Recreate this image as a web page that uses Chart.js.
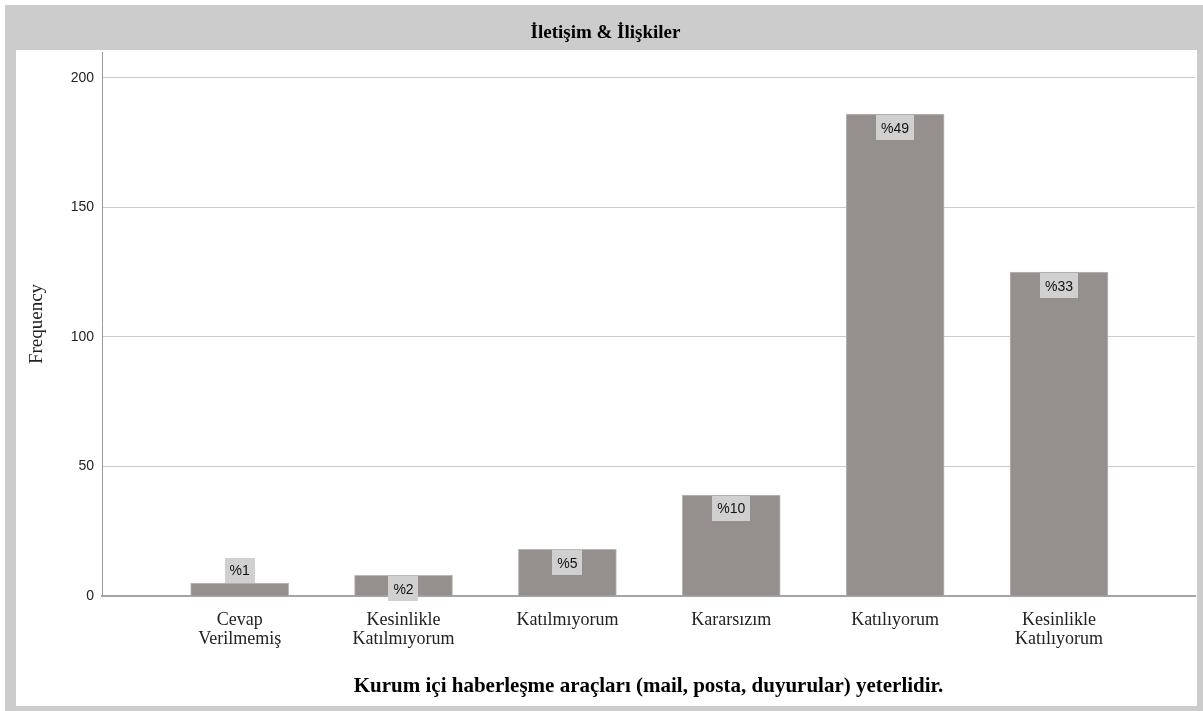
<!DOCTYPE html>
<html>
<head>
<meta charset="utf-8">
<script src="https://cdn.jsdelivr.net/npm/chart.js@4"></script>
<style>
  body { margin: 0; background: #fff; }
  #frame { position: absolute; left: 5px; top: 5px; width: 1198px; height: 706px; background: #cccccc; }
  #inner { position: absolute; left: 16px; top: 50px; width: 1181px; height: 656px; background: #fff; }
  #wrap { position: absolute; left: 0; top: 0; width: 1203px; height: 711px; }
</style>
</head>
<body>
<div id="frame"></div>
<div id="inner"></div>
<div id="wrap"><canvas id="freqChart"></canvas></div>
<script>
// Chart data
const chartTitle = 'İletişim & İlişkiler';
const xTitle = 'Kurum içi haberleşme araçları (mail, posta, duyurular) yeterlidir.';
const yTitle = 'Frequency';
const categories = [
    ['Cevap', 'Verilmemiş'],
    ['Kesinlikle', 'Katılmıyorum'],
    'Katılmıyorum',
    'Kararsızım',
    'Katılıyorum',
    ['Kesinlikle', 'Katılıyorum']
];
const frequencies = [5, 8, 18, 39, 186, 125];
const pctLabels = ['%1', '%2', '%5', '%10', '%49', '%33'];
const yTicks = [0, 50, 100, 150, 200];

const serif = '"Liberation Serif", "Times New Roman", serif';
const sans = '"Liberation Sans", Arial, sans-serif';

// Percent boxes on the bars
const barLabels = {
    id: 'barLabels',
    afterDatasetsDraw(chart) {
        const ctx = chart.ctx;
        const meta = chart.getDatasetMeta(0);
        ctx.save();
        ctx.font = '14px ' + sans;
        ctx.textAlign = 'center';
        ctx.textBaseline = 'middle';
        meta.data.forEach((bar, i) => {
            const text = pctLabels[i];
            const w = ctx.measureText(text).width + 10;
            const h = 25;
            const top = (bar.base - bar.y >= 18) ? bar.y + 1 : bar.y - h;
            ctx.fillStyle = '#d0d0d0';
            ctx.fillRect(Math.round(bar.x - w / 2), Math.round(top), Math.round(w), h);
            ctx.fillStyle = '#111';
            ctx.fillText(text, bar.x, top + h / 2 + 1);
        });
        ctx.restore();
    }
};

const data = {
    datasets: [{
        label: yTitle,
        data: frequencies.map((v, i) => ({ x: i + 1, y: v })),
        backgroundColor: '#958f8d',
        borderColor: '#bdb9b8',
        borderWidth: 1,
        barThickness: 98
    }]
};

const config = {
    type: 'bar',
    data: data,
    options: {
        responsive: false,
        animation: false,
        layout: { padding: { left: 16, right: 8, top: 0, bottom: 5 } },
        plugins: {
            legend: { display: false },
            tooltip: { enabled: false },
            title: {
                display: true,
                text: chartTitle,
                color: '#000',
                font: { family: serif, size: 19, weight: 'bold', lineHeight: 1.2 },
                padding: { top: 22, bottom: 7.2 }
            }
        },
        scales: {
            x: {
                type: 'linear',
                min: 0.16,
                max: 6.83,
                offset: false,
                afterFit: s => { s.height = 110; },
                afterBuildTicks: s => { s.ticks = categories.map((c, i) => ({ value: i + 1 })); },
                grid: { display: false, drawTicks: false },
                border: { display: true, color: '#a4a4a4', width: 2 },
                ticks: {
                    autoSkip: false,
                    maxRotation: 0,
                    padding: 14,
                    color: '#222',
                    font: { family: serif, size: 18, lineHeight: 1.1 },
                    callback: v => categories[v - 1]
                },
                title: {
                    display: true,
                    text: xTitle,
                    color: '#000',
                    font: { family: serif, size: 21, weight: 'bold', lineHeight: 1.2 },
                    padding: { top: 0, bottom: 7 }
                }
            },
            y: {
                min: 0,
                max: 210,
                afterFit: s => { s.width = 86; },
                afterBuildTicks: s => { s.ticks = yTicks.map(v => ({ value: v })); },
                grid: {
                    drawTicks: false,
                    color: c => c.tick && c.tick.value === 0 ? 'rgba(0,0,0,0)' : '#cbcbcb'
                },
                border: { display: true, color: '#9a9a9a', width: 1 },
                ticks: {
                    padding: 8,
                    color: '#222',
                    font: { family: sans, size: 14 }
                },
                title: {
                    display: true,
                    text: yTitle,
                    color: '#222',
                    font: { family: serif, size: 19, lineHeight: 1.2 },
                    padding: { top: 10, bottom: 0 }
                }
            }
        }
    },
    plugins: [barLabels]
};

const canvas = document.getElementById('freqChart');
canvas.width = 1203;
canvas.height = 711;
new Chart(canvas, config);
</script>
</body>
</html>
